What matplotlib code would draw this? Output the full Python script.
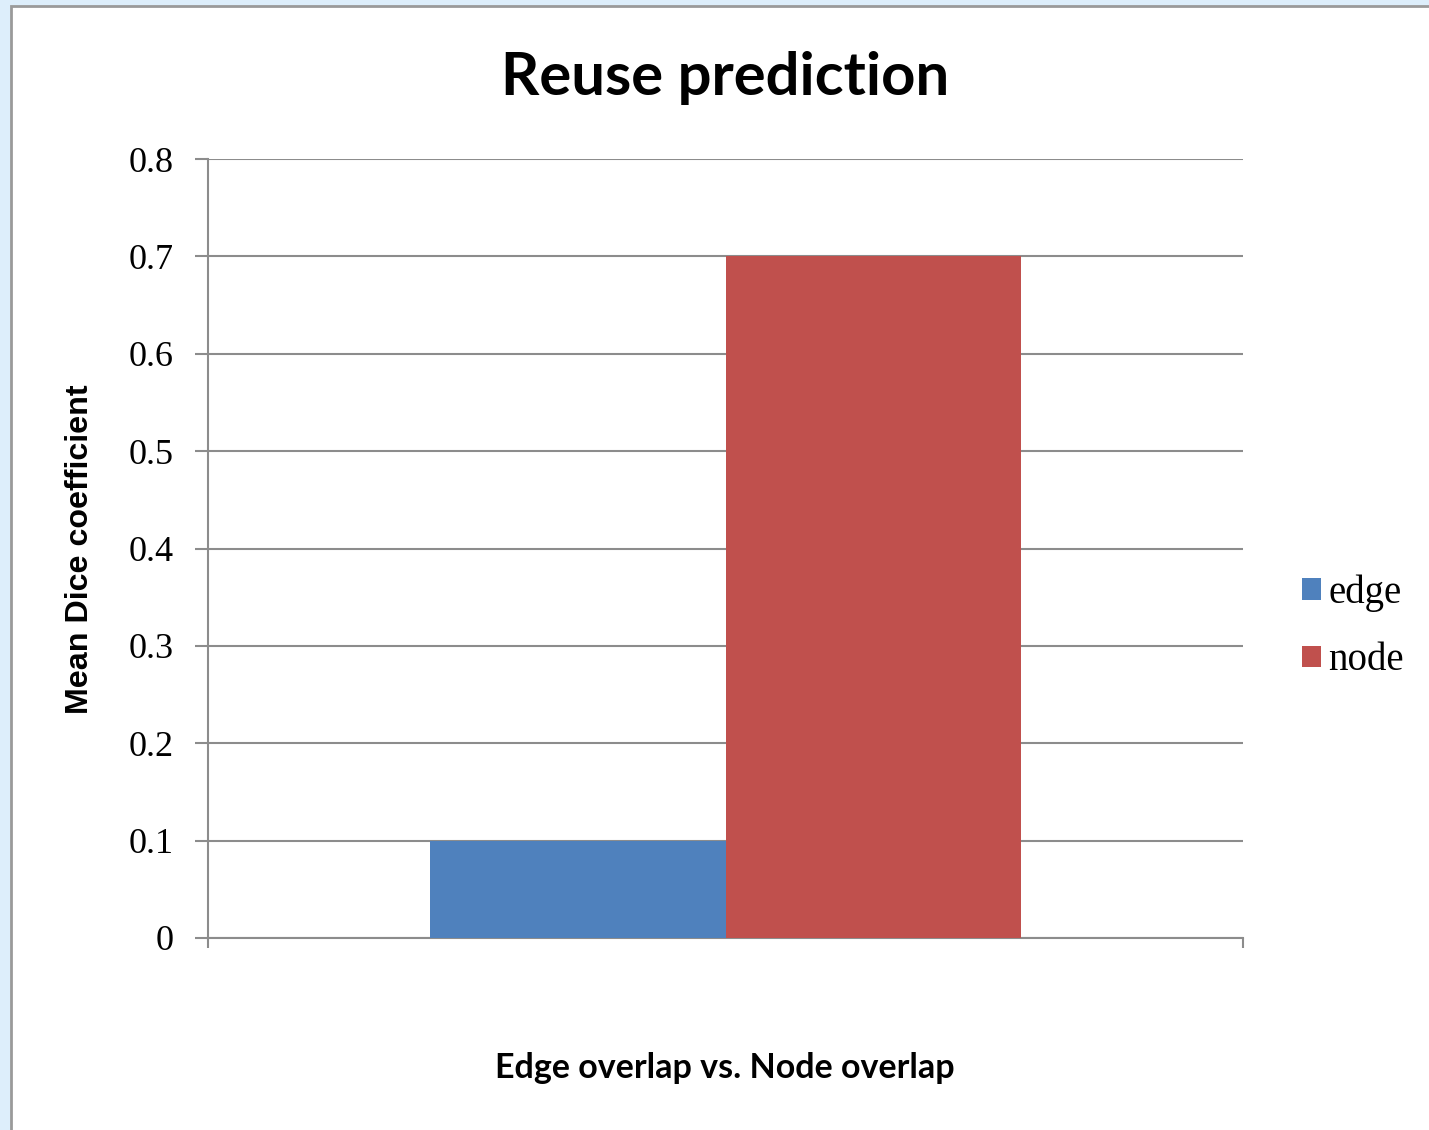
import matplotlib
matplotlib.use("Agg")
import matplotlib.pyplot as plt
from matplotlib.patches import Rectangle

# Data
categories = ["Edge overlap vs. Node overlap"]
series_names = ["edge", "node"]
series_values = [0.1, 0.7]
series_colors = ["#4F81BD", "#C0504D"]
y_ticks = [0, 0.1, 0.2, 0.3, 0.4, 0.5, 0.6, 0.7, 0.8]
y_tick_labels = ["0", "0.1", "0.2", "0.3", "0.4", "0.5", "0.6", "0.7", "0.8"]

W, H = 1429, 1130
fig = plt.figure(figsize=(W / 100, H / 100), dpi=100)
fig.patch.set_facecolor("#DDEEFB")

# White chart frame with grey border on the left/top edges
frame = Rectangle((11 / W, -0.05), 1.2, 1.05 - 6 / H,
                  transform=fig.transFigure, facecolor="white",
                  edgecolor="#9A9A9A", linewidth=2.0, zorder=-10)
fig.patches.append(frame)

ax = fig.add_axes([208 / W, 1 - 938 / H, (1243 - 208) / W, (938 - 159) / H])
ax.set_facecolor("none")
ax.set_zorder(5)

bar_w = 0.2855
offsets = [-bar_w / 2, bar_w / 2]
for name, val, col, off in zip(series_names, series_values, series_colors, offsets):
    ax.bar(0 + off, val, width=bar_w, color=col, label=name, zorder=3, linewidth=0)

ax.set_xlim(-0.5, 0.5)
ax.set_ylim(0, 0.8)
ax.set_yticks(y_ticks)
ax.set_yticklabels(y_tick_labels, family="Liberation Serif", fontsize=26)
ax.set_xticks([-0.5, 0.5])
ax.set_xticklabels(["", ""])
ax.tick_params(axis="y", direction="out", length=9.5, width=1.5, color="#8C8C8C", pad=15.5)
ax.tick_params(axis="x", direction="out", length=7.5, width=1.5, color="#8C8C8C")
ax.grid(axis="y", color="#8C8C8C", linewidth=1.5, zorder=1)
ax.set_axisbelow(True)
for s in ["top", "right"]:
    ax.spines[s].set_visible(False)
for s in ["left", "bottom"]:
    ax.spines[s].set_color("#8C8C8C")
    ax.spines[s].set_linewidth(1.5)

# Titles and axis labels
fig.text(725 / W, 1 - 95 / H, "Reuse prediction", ha="center", va="baseline",
         family="Lato", fontweight="bold", fontsize=43)
fig.text(725 / W, 1 - 1078 / H, categories[0], ha="center", va="baseline",
         family="Lato", fontweight="bold", fontsize=24.5)
fig.text(80 / W, 1 - 549 / H, "Mean Dice coefficient", ha="center", va="center",
         rotation=90, family="Liberation Sans", fontweight="bold", fontsize=23.2)

# Legend
leg = fig.legend(loc="center left", bbox_to_anchor=(1302 / W, 1 - 627 / H),
                 frameon=False, prop={"family": "Liberation Serif", "size": 28},
                 handlelength=0.48, handleheight=0.48, handletextpad=0.2,
                 labelspacing=0.78, borderaxespad=0, borderpad=0)

fig.savefig("out.png", dpi=100, facecolor=fig.get_facecolor())
